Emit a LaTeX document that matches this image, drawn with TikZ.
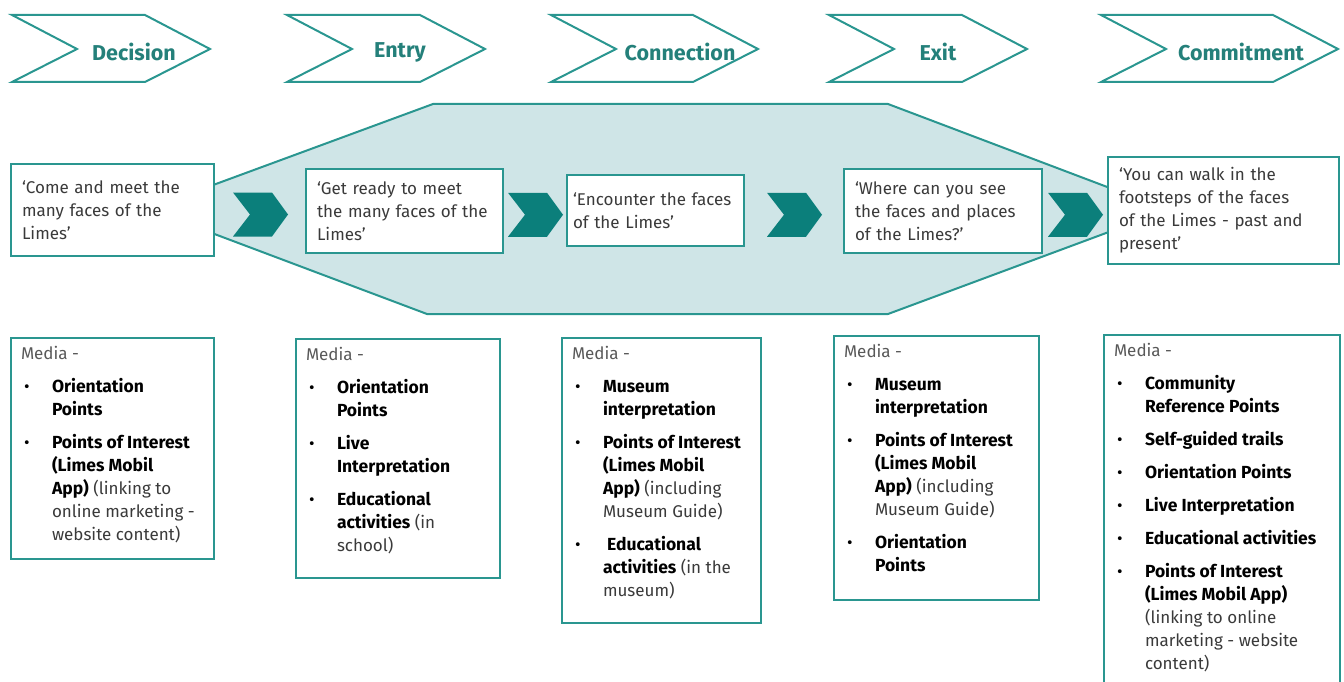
\documentclass[tikz,border=0pt]{standalone}
\usepackage{fontspec}
\setmainfont{Fira Sans}
\usetikzlibrary{calc}

\definecolor{limesteal}{HTML}{2A9690}
\definecolor{limesdark}{HTML}{0B7F7B}
\definecolor{limesfill}{HTML}{CFE5E7}
\definecolor{limestext}{HTML}{3A3A3A}

\newcommand{\mediahead}{{\color{black!65}Media -}\par}
\newcommand{\mediaitem}[1]{\par\vspace{10pt}\hangindent=31pt\hangafter=1\noindent\makebox[31pt][l]{\hspace{3pt}\color{black}\textbullet}#1}
\newcommand{\mediabold}[1]{{\fontsize{17.5}{23}\selectfont\bfseries\color{black}#1}}
\newcommand{\mediabody}[3]{\parbox[c][#2][t]{#1}{\raggedright\fontsize{17}{23}\selectfont\color{limestext}#3}}

\tikzset{
  chevron/.style={draw=limesteal, line width=2pt, line join=miter},
  headlabel/.style={font=\fontsize{21.5}{24}\selectfont\bfseries, text=limesteal!85!black},
  quotebox/.style={draw=limesteal, line width=2pt, fill=white, anchor=north west, align=left,
    inner xsep=11pt, font=\fontsize{17}{23}\selectfont, text=limestext},
  mediabox/.style={draw=limesteal, line width=2pt, fill=white, anchor=north west,
    inner xsep=10pt, inner ysep=8pt}
}

\begin{document}
\begin{tikzpicture}[x=1pt,y=-1pt]

\clip (0,0) rectangle (1344,682);

\foreach \x/\w/\lab/\cx/\i in {12/198/Decision/134/1,287/198/Entry/400/2,551/207/Connection/680/3,829/198/Exit/938/4,1101/237/Commitment/1241/5} {
        \draw[chevron] (\x,15) -- ++({\w-65},0) -- ++(65,34) -- ++(-65,33) -- ++({65-\w},0) -- ++(65,-33) -- cycle;
        \node[headlabel] (hd\i) at (\cx,52) {\lab};
 }

\filldraw[fill=limesfill, draw=limesteal, line width=2pt] (148,209) -- (433,104) -- (888,104) -- (1168,210) -- (888,314) -- (427,314) -- cycle;

\node[quotebox, text width=181pt, minimum height=92pt] (q1) at (10,163) {‘Come and meet the\\many faces of the\\Limes’};
\node[quotebox, text width=175pt, minimum height=84pt] (q2) at (305,168) {‘Get ready to meet\\the many faces of the\\Limes’};
\node[quotebox, inner xsep=6pt, text width=165pt, minimum height=71pt] (q3) at (566,174) {‘Encounter the faces\\of the Limes’};
\node[quotebox, text width=176pt, minimum height=84pt] (q4) at (843,168) {‘Where can you see\\the faces and places\\of the Limes?’};
\node[quotebox, text width=209pt, minimum height=107pt] (q5) at (1107,156) {‘You can walk in the\\footsteps of the faces\\of the Limes - past and\\present’};

\foreach \a/\b in {q1/q2,q2/q3,q3/q4,q4/q5} {
        \fill[limesdark, shift={($(\a.east)!0.5!(\b.west)$)}] (-27,-18) -- (12,-18) -- (28,4) -- (12,26) -- (-27,26) -- (-10,4) -- cycle;
 }

\node[mediabox] (m1) at (10,337) {\mediabody{183pt}{205pt}{\mediahead
  \mediaitem{\mediabold{Orientation\newline Points}}
  \mediaitem{\mediabold{Points of Interest\newline (Limes Mobil\newline App)} (linking to\newline online marketing -\newline website content)}}};
\node[mediabox] (m2) at (295,338) {\mediabody{184pt}{223pt}{\mediahead
  \mediaitem{\mediabold{Orientation\newline Points}}
  \mediaitem{\mediabold{Live\newline Interpretation}}
  \mediaitem{\mediabold{Educational\newline activities} (in\newline school)}}};
\node[mediabox] (m3) at (561,337) {\mediabody{179pt}{269pt}{\mediahead
  \mediaitem{\mediabold{Museum\newline interpretation}}
  \mediaitem{\mediabold{Points of Interest\newline (Limes Mobil\newline App)} (including\newline Museum Guide)}
  \mediaitem{\mediabold{\ Educational\newline activities} (in the\newline museum)}}};
\node[mediabox] (m4) at (833,335) {\mediabody{185pt}{248pt}{\mediahead
  \mediaitem{\mediabold{Museum\newline interpretation}}
  \mediaitem{\mediabold{Points of Interest\newline (Limes Mobil\newline App)} (including\newline Museum Guide)}
  \mediaitem{\mediabold{Orientation\newline Points}}}};
\node[mediabox] (m5) at (1103,334) {\mediabody{216pt}{360pt}{\mediahead
  \mediaitem{\mediabold{Community\newline Reference Points}}
  \mediaitem{\mediabold{Self-guided trails}}
  \mediaitem{\mediabold{Orientation Points}}
  \mediaitem{\mediabold{Live Interpretation}}
  \mediaitem{\mediabold{Educational activities}}
  \mediaitem{\mediabold{Points of Interest\newline (Limes Mobil App)}\newline (linking to online\newline marketing - website\newline content)}}};

\end{tikzpicture}
\end{document}
